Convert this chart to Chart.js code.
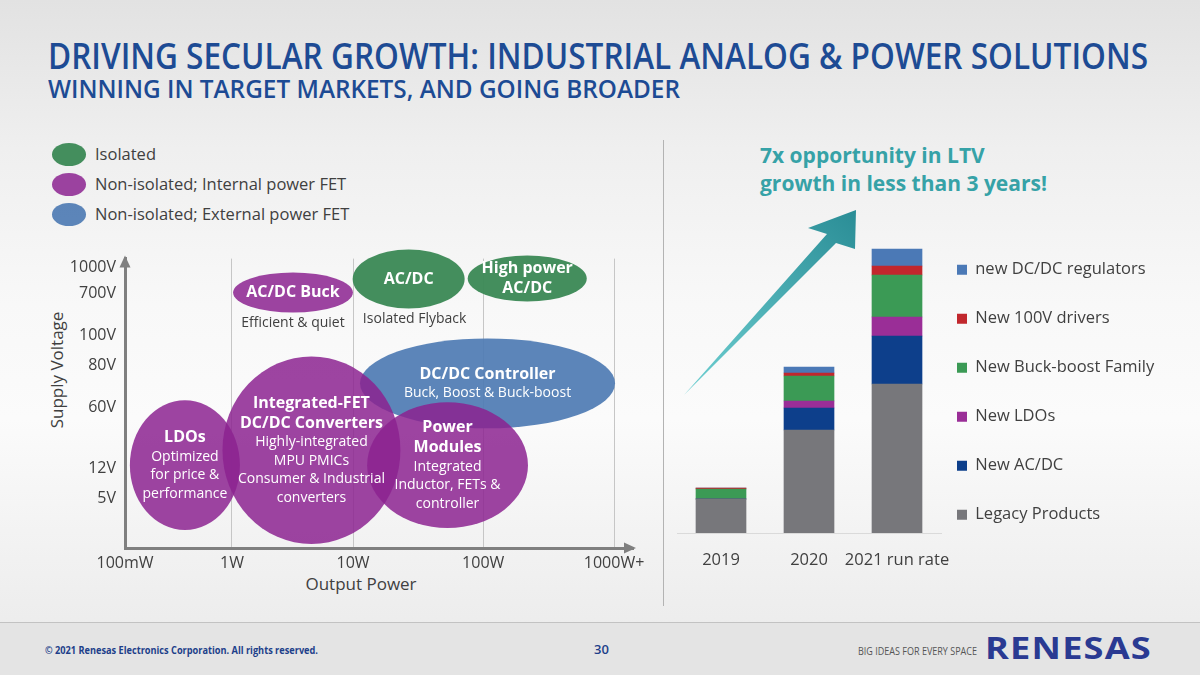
<!DOCTYPE html>
<html>
<head>
<meta charset="utf-8">
<script src="https://cdn.jsdelivr.net/npm/chart.js@4.4.1/dist/chart.umd.min.js"></script>
<style>
  html, body { margin: 0; padding: 0; }
  body { width: 1200px; height: 675px; overflow: hidden; font-family: "Open Sans", "Noto Sans", sans-serif; }
  #slide { position: relative; width: 1200px; height: 675px; overflow: hidden;
    background: linear-gradient(180deg, #e2e2e2 0%, #efefef 22%, #f8f8f8 45%, #fbfbfb 62%, #f0f0f0 85%, #e9e9e9 100%); }
  .t { position: absolute; white-space: nowrap; }
  .fit { transform-origin: 0 50%; display: inline-block; }
  #title { left: 48px; top: 38px; font-size: 36px; line-height: 36px; font-weight: 600; color: #1d4b94; }
  #subtitle { left: 48px; top: 76px; font-size: 25px; line-height: 25px; font-weight: 600; color: #1d4b94; }
  .leg { font-size: 16.5px; line-height: 20px; color: #404040; }
  .legdot { position: absolute; width: 34px; height: 23px; border-radius: 50%; }
  .axt { font-size: 17px; line-height: 20px; color: #404040; }
  #ltv { left: 760px; top: 141px; font-size: 21px; line-height: 28px; font-weight: 700; color: #36a2a7; }
  #sep { position: absolute; left: 663px; top: 140px; width: 1px; height: 466px; background: #b3b3b3; }
  #footer { position: absolute; left: 0; top: 622px; width: 1200px; height: 53px; background: #e4e4e4; border-top: 1px solid #c2c2c2; }
  #copy { left: 45px; top: 643px; font-size: 10.5px; line-height: 14px; font-weight: 700; color: #1d3f8a; }
  #page { left: 594px; top: 641px; font-size: 13px; line-height: 16px; font-weight: 600; color: #1d3f8a; }
  #big { left: 858px; top: 644px; font-size: 10.5px; line-height: 14px; color: #555; }
  #logo { left: 985px; top: 632px; font-size: 30px; line-height: 32px; font-weight: 700; color: #2a3a92; letter-spacing: 1px; }
  canvas { position: absolute; }
</style>
</head>
<body>
<div id="slide">
  <div class="t" id="title"><span class="fit" data-w="1100">DRIVING SECULAR GROWTH: INDUSTRIAL ANALOG &amp; POWER SOLUTIONS</span></div>
  <div class="t" id="subtitle"><span class="fit" data-w="632">WINNING IN TARGET MARKETS, AND GOING BROADER</span></div>
  <div id="legendBox"></div>
  <div id="sep"></div>
  <div class="t axt" id="ytitle" style="left:57px; top:370px; transform: translate(-50%,-50%) rotate(-90deg);">Supply Voltage</div>
  <div class="t axt" id="xtitle" style="left:361px; top:574px; transform: translateX(-50%);">Output Power</div>
  <div class="t" id="ltv">7x opportunity in LTV<br>growth in less than 3 years!</div>
  <svg id="arrow" width="1200" height="675" style="position:absolute;left:0;top:0;">
    <defs>
      <linearGradient id="ag" x1="685" y1="395" x2="856" y2="210" gradientUnits="userSpaceOnUse">
        <stop offset="0" stop-color="#6fd0d2"/>
        <stop offset="1" stop-color="#2a8d96"/>
      </linearGradient>
    </defs>
    <polygon points="684,395 827,234 808,228 856,210 855,249 836,243" fill="url(#ag)"/>
  </svg>
  <canvas id="diagram" width="630" height="370" style="left:30px; top:240px;"></canvas>
  <canvas id="bars" width="533" height="371" style="left:667px; top:215px;"></canvas>
  <div id="footer"></div>
  <div class="t" id="copy"><span class="fit" data-w="273">© 2021 Renesas Electronics Corporation. All rights reserved.</span></div>
  <div class="t" id="page">30</div>
  <div class="t" id="big"><span class="fit" data-w="119">BIG IDEAS FOR EVERY SPACE</span></div>
  <div class="t" id="logo"><span class="fit" data-w="167">RENESAS</span></div>
</div>
<script>
// ---------------- Data: right stacked bar chart ----------------
const barCategories = ['2019', '2020', '2021 run rate'];
const seriesNames = ['Legacy Products', 'New AC/DC', 'New LDOs', 'New Buck-boost Family', 'New 100V drivers', 'new DC/DC regulators'];
const legacyProducts   = [34, 103, 149];
const newACDC          = [0, 22, 48];
const newLDOs          = [0, 7, 19];
const newBuckBoost     = [10, 25, 42];
const new100VDrivers   = [0.8, 3, 9];
const newDCDCRegulators= [0, 6, 17];
const seriesValues = [legacyProducts, newACDC, newLDOs, newBuckBoost, new100VDrivers, newDCDCRegulators];
const seriesColors = ['#77777b', '#0d3f8b', '#9a2e97', '#3b9a55', '#c1272d', '#4b79b6'];

// ---------------- Data: left positioning diagram ----------------
const powerTickLabels   = ['100mW', '1W', '10W', '100W', '1000W+'];
const powerTickValues   = [0, 0.875, 1.865, 2.93, 4];
const voltageTickLabels = ['5V', '12V', '60V', '80V', '100V', '700V', '1000V'];
const voltageTickValues = [5.0, 8.0, 14.1, 18.3, 21.3, 25.5, 28.1];

const regionTypes  = ['Isolated', 'Non-isolated; Internal power FET', 'Non-isolated; External power FET'];
const regionNames  = ['AC/DC', 'High power AC/DC', 'DC/DC Controller', 'LDOs', 'Integrated-FET DC/DC Converters', 'AC/DC Buck', 'Power Modules'];
const regionType   = [0, 0, 2, 1, 1, 1, 1];
const regionPower  = [2.32, 3.29, 2.965, 0.49, 1.525, 1.374, 2.638];   // centre, power axis units
const regionVolt   = [26.95, 27.0, 16.5, 8.3, 9.8, 25.6, 8.3];         // centre, voltage axis units
const regionPowerSpan = [0.458, 0.487, 1.043, 0.45, 0.728, 0.49, 0.658];
const regionVoltSpan  = [2.95, 2.3, 4.5, 6.5, 9.4, 2.0, 6.3];
const regionTitles = [['AC/DC'], ['High power', 'AC/DC'], ['DC/DC Controller'], ['LDOs'], ['Integrated-FET', 'DC/DC Converters'], ['AC/DC Buck'], ['Power', 'Modules']];
const regionNotes  = [[], [], ['Buck, Boost & Buck-boost'], ['Optimized', 'for price &', 'performance'], ['Highly-integrated', 'MPU PMICs', 'Consumer & Industrial', 'converters'], [], ['Integrated', 'Inductor, FETs &', 'controller']];
const regionCaptions = ['Isolated Flyback', '', '', '', '', 'Efficient & quiet', ''];
const typeColors = ['rgba(62,138,88,0.97)', 'rgba(140,35,145,0.85)', 'rgba(80,124,180,0.93)'];
const drawOrder = [0, 2, 1];

const FONT = '"Open Sans", "Noto Sans", sans-serif';

// fit condensed texts
document.querySelectorAll('.fit').forEach(el => {
  const w = el.getBoundingClientRect().width;
  const target = +el.dataset.w;
  el.style.transform = 'scaleX(' + (target / w) + ')';
});

// top-left legend built from the region types
const legendBox = document.getElementById('legendBox');
regionTypes.forEach((name, i) => {
  const d = document.createElement('div');
  d.className = 'legdot';
  d.style.left = '52px'; d.style.top = (143 + i * 30) + 'px';
  d.style.background = typeColors[i];
  legendBox.appendChild(d);
  const t = document.createElement('div');
  t.className = 't leg';
  t.style.left = '95px'; t.style.top = (144 + i * 30) + 'px';
  t.textContent = name;
  legendBox.appendChild(t);
});

// ---------------- Left chart ----------------
const regionDatasets = drawOrder.map(type => ({
  label: regionTypes[type],
  backgroundColor: typeColors[type],
  pointRadius: 0, pointHoverRadius: 0,
  data: regionNames.map((n, i) => ({
    x: regionPower[i], y: regionVolt[i], dx: regionPowerSpan[i], dy: regionVoltSpan[i],
    titles: regionTitles[i], notes: regionNotes[i], caption: regionCaptions[i], type: regionType[i]
  })).filter(p => p.type === type)
}));

const regionPlugin = {
  id: 'regions',
  beforeDatasetsDraw(chart) {
    const {ctx, scales: {x, y}} = chart;
    chart.data.datasets.forEach(ds => {
      ds.data.forEach(p => {
        const cx = x.getPixelForValue(p.x), cy = y.getPixelForValue(p.y);
        const rx = Math.abs(x.getPixelForValue(p.x + p.dx) - cx);
        const ry = Math.abs(y.getPixelForValue(p.y + p.dy) - cy);
        ctx.save();
        ctx.fillStyle = ds.backgroundColor;
        ctx.beginPath();
        ctx.ellipse(cx, cy, rx, ry, 0, 0, Math.PI * 2);
        ctx.fill();
        ctx.restore();
      });
    });
  },
  afterDatasetsDraw(chart) {
    const {ctx, scales: {x, y}} = chart;
    chart.data.datasets.forEach(ds => {
      ds.data.forEach(p => {
        const cx = x.getPixelForValue(p.x), cy = y.getPixelForValue(p.y);
        const ry = Math.abs(y.getPixelForValue(p.y + p.dy) - cy);
        const tl = 20, nl = 18.5;
        const total = p.titles.length * tl + p.notes.length * nl;
        let yy = cy - total / 2;
        ctx.save();
        ctx.fillStyle = '#ffffff';
        ctx.textAlign = 'center';
        ctx.textBaseline = 'middle';
        ctx.font = '700 16px ' + FONT;
        p.titles.forEach(s => { ctx.fillText(s, cx, yy + tl / 2); yy += tl; });
        ctx.font = '400 14px ' + FONT;
        p.notes.forEach(s => { ctx.fillText(s, cx, yy + nl / 2); yy += nl; });
        if (p.caption) {
          ctx.fillStyle = '#404040';
          ctx.font = '400 14px ' + FONT;
          ctx.fillText(p.caption, cx + (p.type === 0 ? 6 : 0), cy + ry + 11);
        }
        ctx.restore();
      });
    });
  },
  afterDraw(chart) {
    const {ctx, chartArea: a} = chart;
    ctx.save();
    ctx.fillStyle = '#7f7f7f';
    ctx.beginPath();
    ctx.moveTo(a.left, a.top - 3); ctx.lineTo(a.left - 5.5, a.top + 9); ctx.lineTo(a.left + 5.5, a.top + 9); ctx.closePath();
    ctx.fill();
    ctx.beginPath();
    ctx.moveTo(a.right + 3, a.bottom); ctx.lineTo(a.right - 9, a.bottom - 5.5); ctx.lineTo(a.right - 9, a.bottom + 5.5); ctx.closePath();
    ctx.fill();
    ctx.restore();
  }
};

new Chart(document.getElementById('diagram'), {
  type: 'scatter',
  data: { datasets: regionDatasets },
  plugins: [regionPlugin],
  options: {
    responsive: false, animation: false, events: [],
    layout: { padding: { left: 35, right: 27, top: 18, bottom: 0 } },
    plugins: { legend: { display: false }, tooltip: { enabled: false } },
    scales: {
      x: {
        type: 'linear', min: 0, max: 4.155,
        afterBuildTicks: s => { s.ticks = powerTickValues.map(v => ({ value: v })); },
        afterFit: s => { s.height = 62; },
        ticks: { autoSkip: false, maxRotation: 0, padding: 6, color: '#404040',
          font: { family: FONT, size: 16 },
          callback: (v, i) => powerTickLabels[i] },
        grid: { drawTicks: false, lineWidth: 1, color: c => (c.index === 0 ? 'rgba(0,0,0,0)' : '#c6c6c6') },
        border: { display: true, color: '#7f7f7f', width: 3 }
      },
      y: {
        type: 'linear', min: 0, max: 29,
        afterBuildTicks: s => { s.ticks = voltageTickValues.map(v => ({ value: v })); },
        afterFit: s => { s.width = 60; },
        ticks: { autoSkip: false, padding: 9, color: '#404040',
          font: { family: FONT, size: 16 },
          callback: (v, i) => voltageTickLabels[i] },
        grid: { drawTicks: false, color: 'rgba(0,0,0,0)' },
        border: { display: true, color: '#7f7f7f', width: 3 }
      }
    }
  }
});

// ---------------- Right chart ----------------
const barChart = new Chart(document.getElementById('bars'), {
  type: 'bar',
  data: {
    labels: barCategories,
    datasets: seriesNames.map((name, i) => ({
      label: name, data: seriesValues[i], backgroundColor: seriesColors[i],
      borderWidth: 0, barThickness: 50
    }))
  },
  options: {
    responsive: false, animation: false, events: [],
    layout: { padding: { left: 10, right: 0, top: 0, bottom: 0 } },
    plugins: {
      tooltip: { enabled: false },
      legend: {
        position: 'right', align: 'center', reverse: true,
        labels: {
          boxWidth: 10, boxHeight: 10, padding: 16, color: '#404040',
          font: { family: FONT, size: 16.5, lineHeight: 33 / 16.5 },
          generateLabels: chart => {
            const items = Chart.defaults.plugins.legend.labels.generateLabels(chart);
            items.forEach(it => { it.text = [it.text]; it.lineWidth = 0; });
            return items;
          }
        }
      }
    },
    scales: {
      x: {
        stacked: true,
        afterFit: s => { s.height = 53; },
        ticks: { color: '#404040', padding: 9, autoSkip: false, maxRotation: 0, minRotation: 0,
          font: { family: FONT, size: 16.5 } },
        grid: { display: false },
        border: { display: true, color: '#dadada', width: 1 }
      },
      y: { stacked: true, display: false, min: 0, max: 318 }
    }
  }
});
const targetRight = 941 - 667;
const dRight = barChart.chartArea.right - targetRight;
if (Math.abs(dRight) > 0.5) {
  barChart.options.layout.padding.right = Math.max(0, dRight);
  barChart.update('none');
}
</script>
</body>
</html>
